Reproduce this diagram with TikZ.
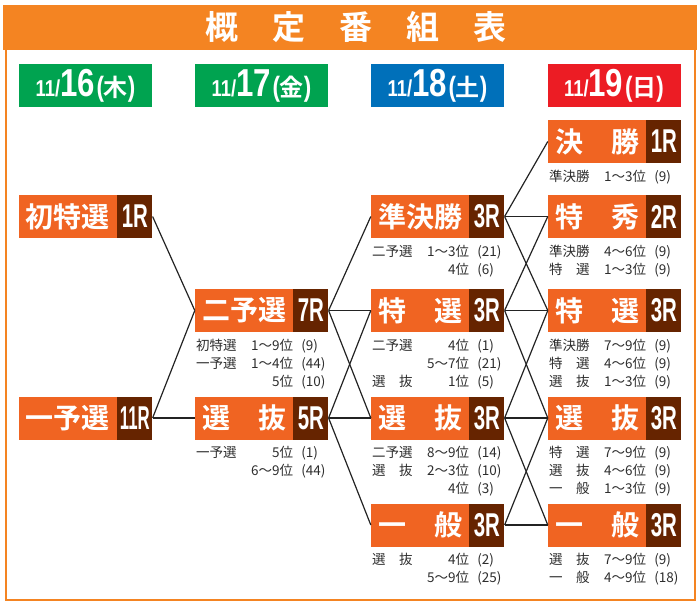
\documentclass[tikz,border=0pt]{standalone}
\usepackage{fontspec}
\usepackage{tikz}
\usetikzlibrary{calc}
\newfontfamily\jp{Noto Sans CJK JP}
\newfontfamily\jpb{Noto Sans CJK JP Bold}
\newfontfamily\condb{Liberation Sans Bold}[FakeStretch=0.62]
\newfontfamily\dateb{Liberation Sans Bold}[FakeStretch=0.8]
\definecolor{bandorange}{RGB}{244,132,34}
\definecolor{boxorange}{RGB}{240,100,34}
\definecolor{boxbrown}{RGB}{102,36,0}
\definecolor{dgreen}{RGB}{0,163,80}
\definecolor{dblue}{RGB}{0,112,186}
\definecolor{dred}{RGB}{236,28,36}
\definecolor{subgray}{RGB}{45,45,45}
\definecolor{linegray}{RGB}{35,35,35}
\newcommand{\two}[2]{\makebox[3em][s]{#1\hfill#2}}
\newcommand{\dayhead}[2]{{\dateb\fontsize{23}{23}\selectfont 11/}{\dateb\fontsize{39}{39}\selectfont #1}\,{\dateb\fontsize{28}{28}\selectfont(}{\jpb\fontsize{24}{24}\selectfont #2}{\dateb\fontsize{28}{28}\selectfont)}}
\newcommand{\subline}[5]{%
  \if\relax\detokenize{#3}\relax\else
  \node[subtxt,anchor=base west] (#1-a#2) at ($(#1.south west)+(1,{18*#2})$) {#3};
  \fi
  \node[subtxt,anchor=base east] (#1-b#2) at ($(#1.south east)+(0,{18*#2})$) {#4};
  \node[subtxt,anchor=base west] (#1-c#2) at ($(#1.south east)+(8,{18*#2})$) {#5};
}
\tikzset{
  racebox/.style={fill=boxorange,text=white,inner sep=0,minimum width=98,minimum height=43,font=\jpb\fontsize{28}{28}\selectfont},
  rbox/.style={fill=boxbrown,text=white,inner sep=0,minimum width=35,minimum height=43,anchor=west,font=\condb\fontsize{33}{33}\selectfont},
  datebox/.style={text=white,inner sep=0,minimum width=133,minimum height=43},
  subtxt/.style={inner sep=0,text=subgray,font=\jp\fontsize{13.5}{13.5}\selectfont},
  link/.style={draw=linegray,line width=1.2},
}
\begin{document}
\begin{tikzpicture}[x=1pt,y=-1pt]
\useasboundingbox (0,0) rectangle (697,602);
\fill[bandorange] (3,5) rectangle (697,50);
\draw[bandorange,line width=2] (6,50) -- (6,600) -- (695,600) -- (695,50);
\node[text=white,font=\jpb\fontsize{33}{33}\selectfont] (title) at (356,27) {概\hspace{34pt}定\hspace{34pt}番\hspace{34pt}組\hspace{34pt}表};

\node[datebox,fill=dgreen] (d16) at (85.5,85.5) {\dayhead{16}{木}};
\node[datebox,fill=dgreen] (d17) at (261.5,85.5) {\dayhead{17}{金}};
\node[datebox,fill=dblue] (d18) at (437.5,85.5) {\dayhead{18}{土}};
\node[datebox,fill=dred] (d19) at (614,85.5) {\dayhead{19}{日}};

\node[racebox] (shotoku) at (68,216.5) {初特選};
\node[rbox] (shotoku-r) at (shotoku.east) {1R};
\node[racebox] (ichiyo) at (68,418) {一予選};
\node[rbox] (ichiyo-r) at (ichiyo.east) {\scalebox{0.82}[1]{11R}};

\node[racebox] (niyo) at (244,310.5) {二予選};
\node[rbox] (niyo-r) at (niyo.east) {7R};
\node[racebox] (senbatsu2) at (244,418) {\two{選}{抜}};
\node[rbox] (senbatsu2-r) at (senbatsu2.east) {5R};

\node[racebox] (junkessho) at (420,216.5) {準決勝};
\node[rbox] (junkessho-r) at (junkessho.east) {3R};
\node[racebox] (tokusen3) at (420,310.5) {\two{特}{選}};
\node[rbox] (tokusen3-r) at (tokusen3.east) {3R};
\node[racebox] (senbatsu3) at (420,418) {\two{選}{抜}};
\node[rbox] (senbatsu3-r) at (senbatsu3.east) {3R};
\node[racebox] (ippan3) at (420,525) {\two{一}{般}};
\node[rbox] (ippan3-r) at (ippan3.east) {3R};

\node[racebox] (kessho) at (597,141.5) {\two{決}{勝}};
\node[rbox] (kessho-r) at (kessho.east) {1R};
\node[racebox] (tokushu) at (597,216.5) {\two{特}{秀}};
\node[rbox] (tokushu-r) at (tokushu.east) {2R};
\node[racebox] (tokusen4) at (597,310.5) {\two{特}{選}};
\node[rbox] (tokusen4-r) at (tokusen4.east) {3R};
\node[racebox] (senbatsu4) at (597,418) {\two{選}{抜}};
\node[rbox] (senbatsu4-r) at (senbatsu4.east) {3R};
\node[racebox] (ippan4) at (597,525) {\two{一}{般}};
\node[rbox] (ippan4-r) at (ippan4.east) {3R};

\subline{niyo}{1}{初特選}{1～9位}{(9)}
\subline{niyo}{2}{一予選}{1～4位}{(44)}
\subline{niyo}{3}{}{5位}{(10)}
\subline{senbatsu2}{1}{一予選}{5位}{(1)}
\subline{senbatsu2}{2}{}{6～9位}{(44)}

\subline{junkessho}{1}{二予選}{1～3位}{(21)}
\subline{junkessho}{2}{}{4位}{(6)}
\subline{tokusen3}{1}{二予選}{4位}{(1)}
\subline{tokusen3}{2}{}{5～7位}{(21)}
\subline{tokusen3}{3}{\two{選}{抜}}{1位}{(5)}
\subline{senbatsu3}{1}{二予選}{8～9位}{(14)}
\subline{senbatsu3}{2}{\two{選}{抜}}{2～3位}{(10)}
\subline{senbatsu3}{3}{}{4位}{(3)}
\subline{ippan3}{1}{\two{選}{抜}}{4位}{(2)}
\subline{ippan3}{2}{}{5～9位}{(25)}

\subline{kessho}{1}{準決勝}{1～3位}{(9)}
\subline{tokushu}{1}{準決勝}{4～6位}{(9)}
\subline{tokushu}{2}{\two{特}{選}}{1～3位}{(9)}
\subline{tokusen4}{1}{準決勝}{7～9位}{(9)}
\subline{tokusen4}{2}{\two{特}{選}}{4～6位}{(9)}
\subline{tokusen4}{3}{\two{選}{抜}}{1～3位}{(9)}
\subline{senbatsu4}{1}{\two{特}{選}}{7～9位}{(9)}
\subline{senbatsu4}{2}{\two{選}{抜}}{4～6位}{(9)}
\subline{senbatsu4}{3}{\two{一}{般}}{1～3位}{(9)}
\subline{ippan4}{1}{\two{選}{抜}}{7～9位}{(9)}
\subline{ippan4}{2}{\two{一}{般}}{4～9位}{(18)}

\path[link] (shotoku-r.east) edge (niyo.west);
\path[link] (ichiyo-r.east) edge (niyo.west);
\path[link] (ichiyo-r.east) edge (senbatsu2.west);

\path[link] (niyo-r.east) edge (junkessho.west);
\path[link] (niyo-r.east) edge (tokusen3.west);
\path[link] (niyo-r.east) edge (senbatsu3.west);
\path[link] (senbatsu2-r.east) edge (tokusen3.west);
\path[link] (senbatsu2-r.east) edge (senbatsu3.west);
\path[link] (senbatsu2-r.east) edge (ippan3.west);

\path[link] (junkessho-r.east) edge (kessho.west);
\path[link] (junkessho-r.east) edge (tokushu.west);
\path[link] (junkessho-r.east) edge (tokusen4.west);
\path[link] (tokusen3-r.east) edge (tokushu.west);
\path[link] (tokusen3-r.east) edge (tokusen4.west);
\path[link] (tokusen3-r.east) edge (senbatsu4.west);
\path[link] (senbatsu3-r.east) edge (tokusen4.west);
\path[link] (senbatsu3-r.east) edge (senbatsu4.west);
\path[link] (senbatsu3-r.east) edge (ippan4.west);
\path[link] (ippan3-r.east) edge (senbatsu4.west);
\path[link] (ippan3-r.east) edge (ippan4.west);
\end{tikzpicture}
\end{document}
